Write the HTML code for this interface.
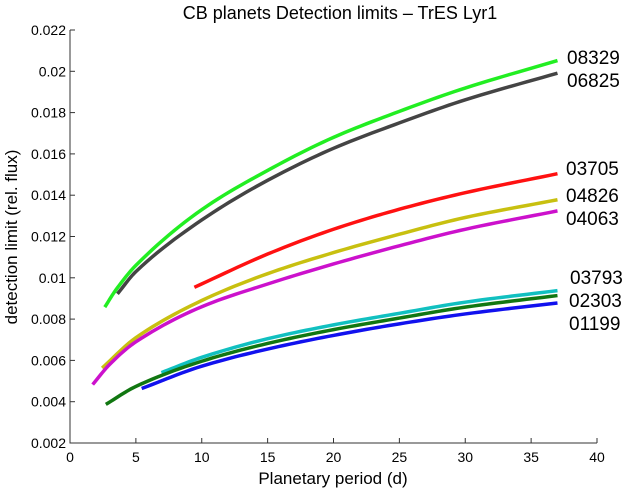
<!DOCTYPE html>
<html><head><meta charset="utf-8"><style>
body{margin:0;background:#fff;}
svg{display:block;font-family:"Liberation Sans",sans-serif;}
</style></head><body>
<svg id="chart" width="632" height="491">
<text x="340" y="19" font-size="18" text-anchor="middle">CB planets Detection limits – TrES Lyr1</text>
<text x="333" y="484" font-size="17" text-anchor="middle">Planetary period (d)</text>
<text transform="translate(17,237) rotate(-90)" font-size="17" text-anchor="middle">detection limit (rel. flux)</text>
<g id="axes"></g>
<g id="series"></g>
<g font-size="19">
<text x="567" y="64">08329</text>
<text x="567" y="87">06825</text>
<text x="566" y="175">03705</text>
<text x="566" y="202">04826</text>
<text x="566" y="225">04063</text>
<text x="570" y="284">03793</text>
<text x="569" y="307">02303</text>
<text x="569" y="330">01199</text>
</g>
</svg>
<script>
const xTicks=[0,5,10,15,20,25,30,35,40];
const yTicks=[0.002,0.004,0.006,0.008,0.01,0.012,0.014,0.016,0.018,0.02,0.022];
const seriesNames=["08329","06825","03705","04826","04063","03793","02303","01199"];
const seriesColors=["#22ee22","#444444","#ff1111","#c8c010","#cc11cc","#11c0c0","#117711","#1111ee"];
const xs08329=[2.64,3.5,5,10,15,20,25,30,37];
const ys08329=[0.00858,0.00943,0.0106,0.0133,0.0152,0.01680,0.01806,0.01919,0.02052];
const xs06825=[3.6,5,10,15,20,25,30,37];
const ys06825=[0.00922,0.0103,0.0128,0.01472,0.01627,0.0175,0.01862,0.01991];
const xs03705=[9.44,15,20,25,30,37];
const ys03705=[0.00954,0.01115,0.01235,0.01332,0.01412,0.01504];
const xs04826=[2.44,5,10,15,20,25,30,37];
const ys04826=[0.00563,0.0071,0.0089,0.0102,0.01122,0.01211,0.01292,0.01378];
const xs04063=[1.72,3,5,10,15,20,25,30,37];
const ys04063=[0.00483,0.0058,0.0069,0.0086,0.0097,0.01067,0.01155,0.01235,0.01324];
const xs03793=[6.94,10,15,20,25,30,37];
const ys03793=[0.00541,0.00615,0.00705,0.00772,0.00828,0.00882,0.00938];
const xs02303=[2.72,5,10,15,20,25,30,37];
const ys02303=[0.00387,0.00474,0.00596,0.00682,0.00749,0.00805,0.00858,0.00914];
const xs01199=[5.44,10,15,20,25,30,37];
const ys01199=[0.00464,0.00572,0.00655,0.00721,0.00777,0.00825,0.00878];
const allX=[xs08329,xs06825,xs03705,xs04826,xs04063,xs03793,xs02303,xs01199];
const allY=[ys08329,ys06825,ys03705,ys04826,ys04063,ys03793,ys02303,ys01199];

const L=70,R=597,T=30,B=443;
const sx=v=>L+(v-0)/(40-0)*(R-L);
const sy=v=>B-(v-0.002)/(0.022-0.002)*(B-T);
const NS="http://www.w3.org/2000/svg";
const axes=document.getElementById('axes');
function mk(tag,attrs,parent){const e=document.createElementNS(NS,tag);for(const k in attrs)e.setAttribute(k,attrs[k]);parent.appendChild(e);return e;}
const frame=mk('path',{d:`M${L},${T}V${B}H${R}`,fill:'none',stroke:'#333','stroke-width':1},axes);


xTicks.forEach(t=>{
  const x=sx(t);
  const tk=mk('line',{x1:x,x2:x,y1:B,y2:B-5,stroke:'#333'},axes);
  
  
  const tx=mk('text',{x:x,y:B+19,'font-size':14,'text-anchor':'middle'},axes);
  tx.textContent=t;
  
  
});
yTicks.forEach(t=>{
  const y=sy(t);
  const tk=mk('line',{x1:L,x2:L+5,y1:y,y2:y,stroke:'#333'},axes);
  
  
  const tx=mk('text',{x:L-4,y:y+5,'font-size':14,'text-anchor':'end'},axes);
  tx.textContent=String(+t.toFixed(3));
  
  
});
const sg=document.getElementById('series');
// monotone cubic (Fritsch-Carlson) in data space, sampled densely
function monotonePath(xs,ys){
  const n=xs.length,d=[],m=[];
  for(let i=0;i<n-1;i++)d.push((ys[i+1]-ys[i])/(xs[i+1]-xs[i]));
  m[0]=d[0];m[n-1]=d[n-2];
  for(let i=1;i<n-1;i++)m[i]=(d[i-1]*d[i]<=0)?0:2/(1/d[i-1]+1/d[i]);
  let p=`M${sx(xs[0])},${sy(ys[0])}`;
  for(let i=0;i<n-1;i++){
    const h=xs[i+1]-xs[i];
    for(let k=1;k<=12;k++){
      const t=k/12,t2=t*t,t3=t2*t;
      const v=(2*t3-3*t2+1)*ys[i]+(t3-2*t2+t)*h*m[i]+(-2*t3+3*t2)*ys[i+1]+(t3-t2)*h*m[i+1];
      p+=`L${sx(xs[i]+t*h).toFixed(2)},${sy(v).toFixed(2)}`;
    }
  }
  return p;
}
seriesNames.forEach((n,i)=>{
  const p=mk('path',{d:monotonePath(allX[i],allY[i]),fill:'none',stroke:seriesColors[i],'stroke-width':3.5,'stroke-linejoin':'round'},sg);
  
  
});
</script>
</body></html>
